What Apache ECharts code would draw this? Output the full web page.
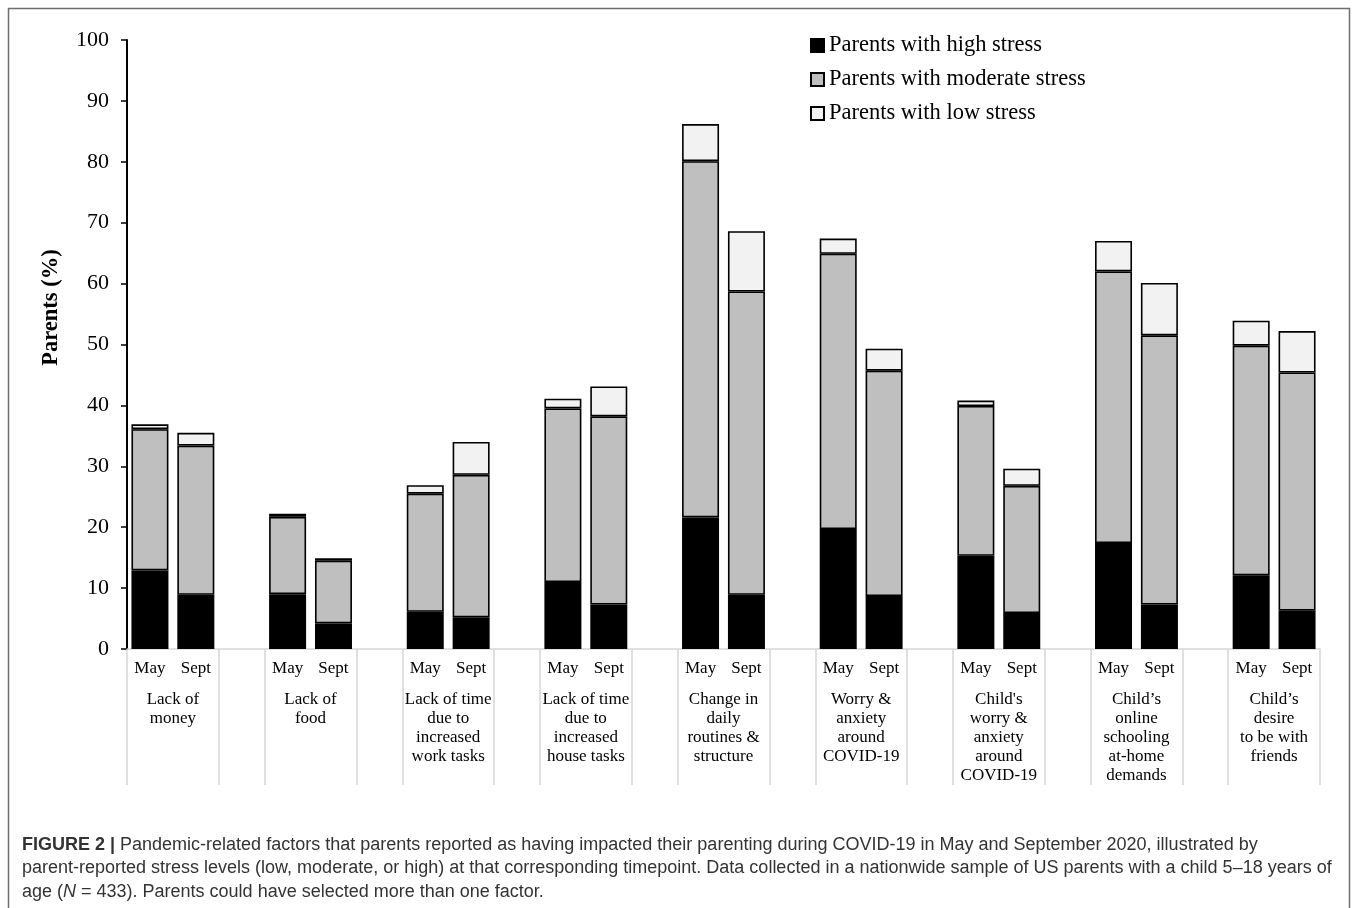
<!DOCTYPE html>
<html>
<head>
<meta charset="utf-8">
<script src="https://cdn.jsdelivr.net/npm/echarts@6/dist/echarts.min.js"></script>
<style>
html,body{margin:0;padding:0;background:#fff;}
#chart{width:1358px;height:908px;}
</style>
</head>
<body>
<div id="chart"></div>
<script>
// ---- data ----
const groups = [
  'Lack of\nmoney',
  'Lack of\nfood',
  'Lack of time\ndue to\nincreased\nwork tasks',
  'Lack of time\ndue to\nincreased\nhouse tasks',
  'Change in\ndaily\nroutines &\nstructure',
  'Worry &\nanxiety\naround\nCOVID-19',
  "Child's\nworry &\nanxiety\naround\nCOVID-19",
  'Child\u2019s\nonline\nschooling\nat-home\ndemands',
  'Child\u2019s\ndesire\nto be with\nfriends'
];
const timepoints = ['May', 'Sept'];
const seriesNames = ['Parents with high stress', 'Parents with moderate stress', 'Parents with low stress'];
// values per group: [May, Sept]
const highStress     = [12.9, 8.9,  9.0, 4.2,  6.1, 5.2,  11.0, 7.3,  21.6, 8.9,  19.7, 8.7,  15.3, 5.9,  17.4, 7.3,  12.1, 6.3];
const moderateStress = [23.2, 24.5, 12.7, 10.3, 19.4, 23.4, 28.5, 30.9, 58.5, 49.8, 45.2, 37.0, 24.6, 20.9, 44.6, 44.2, 37.7, 39.1];
const lowStress      = [0.8, 2.1,   0.5, 0.4,   1.4, 5.4,   1.6, 4.9,   6.1, 9.9,   2.5, 3.6,   0.9, 2.8,   5.0, 8.6,   4.1, 6.8];
const yTicks = {min: 0, max: 100, interval: 10};

// ---- build slots (May, Sept, gap) ----
const slots = [];
function expand(arr) {
  const out = [];
  groups.forEach((g, i) => {
    out.push(arr[2 * i], arr[2 * i + 1]);
    if (i < groups.length - 1) out.push('-');
  });
  return out;
}
groups.forEach((g, i) => {
  slots.push(timepoints[0], timepoints[1]);
  if (i < groups.length - 1) slots.push('');
});

const serif = '"Liberation Serif", "Times New Roman", serif';
const sans = '"Liberation Sans", Arial, sans-serif';
const fills = ['#000000', '#bfbfbf', '#f2f2f2'];
const dataSets = [highStress, moderateStress, lowStress];
const sepColor = '#d6d6d6';

const chart = echarts.init(document.getElementById('chart'));
chart.setOption({
  animation: false,
  backgroundColor: '#ffffff',
  grid: {left: 127, right: 38, top: 40, bottom: 259},
  legend: {
    orient: 'vertical',
    left: 805,
    top: 29,
    itemWidth: 13,
    itemHeight: 13,
    itemGap: 11,
    icon: 'rect',
    textStyle: {fontFamily: serif, fontSize: 22.5, color: '#000'},
    data: seriesNames
  },
  xAxis: [
    {
      type: 'category',
      data: slots,
      boundaryGap: true,
      axisLine: {show: true, lineStyle: {color: sepColor, width: 1.5}},
      axisTick: {
        show: true,
        interval: function (i) { return i % 3 !== 1; },
        length: 136,
        lineStyle: {color: sepColor, width: 1.5}
      },
      axisLabel: {interval: 0, margin: 11, fontFamily: serif, fontSize: 17, color: '#000'},
      splitLine: {show: false}
    },
    {
      type: 'value',
      position: 'bottom',
      min: 0,
      max: slots.length,
      interval: 1,
      axisLine: {show: false},
      axisTick: {show: false},
      splitLine: {show: false},
      axisLabel: {
        margin: 41,
        fontFamily: serif,
        fontSize: 17,
        lineHeight: 19,
        color: '#000',
        showMinLabel: true,
        showMaxLabel: true,
        formatter: function (v) {
          const k = Math.round(v) - 1;
          if (k >= 0 && k % 3 === 0 && k / 3 < groups.length) return groups[k / 3];
          return '';
        }
      }
    }
  ],
  yAxis: {
    type: 'value',
    min: yTicks.min,
    max: yTicks.max,
    interval: yTicks.interval,
    name: 'Parents (%)',
    nameLocation: 'middle',
    nameGap: 64,
    nameTextStyle: {fontFamily: serif, fontSize: 22.5, fontWeight: 'bold', color: '#000', padding: [0, 0, 0, 74]},
    axisLine: {show: true, lineStyle: {color: '#000', width: 2}},
    axisTick: {show: true, length: 6, lineStyle: {color: '#000', width: 1.5}},
    axisLabel: {margin: 18, fontFamily: serif, fontSize: 22, color: '#000'},
    splitLine: {show: false}
  },
  series: seriesNames.map((name, i) => ({
    name: name,
    type: 'bar',
    stack: 'stress',
    xAxisIndex: 0,
    barWidth: 37,
    itemStyle: {color: fills[i], borderColor: '#000', borderWidth: 1.6},
    emphasis: {disabled: true},
    data: expand(dataSets[i])
  })),
  graphic: [
    {
      type: 'rect',
      silent: true,
      shape: {x: 8.5, y: 8.5, width: 1341, height: 940},
      style: {fill: 'none', stroke: '#6e6e6e', lineWidth: 1.5}
    },
    {
      type: 'text',
      left: 22,
      top: 833,
      silent: true,
      style: {
        text: '{b|FIGURE 2 |} Pandemic-related factors that parents reported as having impacted their parenting during COVID-19 in May and September 2020, illustrated by\n' +
              'parent-reported stress levels (low, moderate, or high) at that corresponding timepoint. Data collected in a nationwide sample of US parents with a child 5\u201318 years of\n' +
              'age ({i|N} = 433). Parents could have selected more than one factor.',
        fill: '#333',
        font: '18px ' + sans,
        lineHeight: 23.5,
        rich: {
          b: {fontFamily: sans, fontSize: 18, fontWeight: 'bold', fill: '#333', lineHeight: 23.5},
          i: {fontFamily: sans, fontSize: 18, fontStyle: 'italic', fill: '#333', lineHeight: 23.5}
        }
      }
    }
  ]
});
</script>
</body>
</html>
